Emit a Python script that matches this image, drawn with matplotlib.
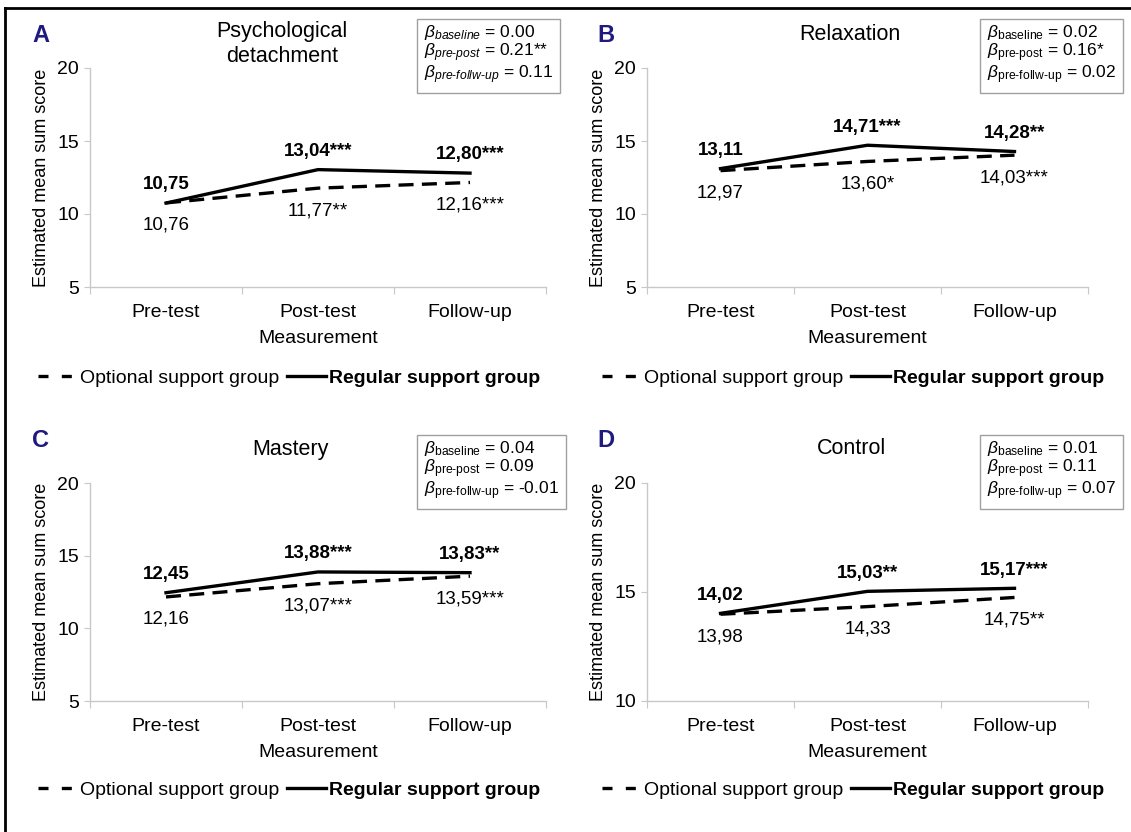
import matplotlib
matplotlib.use("Agg")
import matplotlib.pyplot as plt
from matplotlib.lines import Line2D

plt.rcParams['font.family'] = ['Liberation Sans', 'DejaVu Sans']
plt.rcParams['mathtext.fontset'] = 'custom'
plt.rcParams['mathtext.rm'] = 'Liberation Sans'
plt.rcParams['mathtext.it'] = 'Liberation Sans:italic'
plt.rcParams['mathtext.bf'] = 'Liberation Sans:bold'

categories = ["Pre-test", "Post-test", "Follow-up"]

titles = ["Psychological\ndetachment", "Relaxation", "Mastery", "Control"]
letters = ["A", "B", "C", "D"]

regular_A = [10.75, 13.04, 12.80]
optional_A = [10.76, 11.77, 12.16]
regular_B = [13.11, 14.71, 14.28]
optional_B = [12.97, 13.60, 14.03]
regular_C = [12.45, 13.88, 13.83]
optional_C = [12.16, 13.07, 13.59]
regular_D = [14.02, 15.03, 15.17]
optional_D = [13.98, 14.33, 14.75]

regular_stars_A = ["", "***", "***"]
optional_stars_A = ["", "**", "***"]
regular_stars_B = ["", "***", "**"]
optional_stars_B = ["", "*", "***"]
regular_stars_C = ["", "***", "**"]
optional_stars_C = ["", "***", "***"]
regular_stars_D = ["", "**", "***"]
optional_stars_D = ["", "", "**"]

beta_baseline = ["0.00", "0.02", "0.04", "0.01"]
beta_prepost = ["0.21**", "0.16*", "0.09", "0.11"]
beta_prefollow = ["0.11", "0.02", "-0.01", "0.07"]

ylims = [(5, 20), (5, 20), (5, 20), (10, 20)]
yticks = [[5, 10, 15, 20], [5, 10, 15, 20], [5, 10, 15, 20], [10, 15, 20]]

regulars = [regular_A, regular_B, regular_C, regular_D]
optionals = [optional_A, optional_B, optional_C, optional_D]
reg_stars = [regular_stars_A, regular_stars_B, regular_stars_C, regular_stars_D]
opt_stars = [optional_stars_A, optional_stars_B, optional_stars_C, optional_stars_D]

W, H = 1131, 832
fig = plt.figure(figsize=(W / 100, H / 100), dpi=100)

def fx(px):
    return px / W

def fy(py):
    return 1 - py / H

# axes boxes in pixels: left, right, top, bottom
boxes = [(90, 546, 68, 287), (647, 1088, 68, 287),
         (90, 546, 483, 701), (647, 1088, 483, 701)]

navy = "#1f1a80"
gray = "#c8c8c8"
FS = 14

for i in range(4):
    l, r, t, b = boxes[i]
    ax = fig.add_axes([fx(l), fy(b), fx(r) - fx(l), fy(t) - fy(b)])
    x = list(range(len(categories)))
    ax.plot(x, optionals[i], color="black", lw=2.4, linestyle=(0, (4.5, 2.5)), zorder=3)
    ax.plot(x, regulars[i], color="black", lw=2.4, zorder=4)
    ax.set_xlim(-0.5, 2.5)
    ax.set_ylim(*ylims[i])
    ax.set_yticks(yticks[i])
    ax.set_yticklabels([str(v) for v in yticks[i]], fontsize=FS)
    ax.set_xticks([-0.5, 0.5, 1.5, 2.5])
    ax.set_xticklabels([])
    ax.set_xticks(x, minor=True)
    ax.set_xticklabels(categories, minor=True, fontsize=FS)
    ax.tick_params(axis='x', which='minor', length=0, pad=12)
    ax.tick_params(axis='x', which='major', length=5, color=gray, direction='out')
    ax.tick_params(axis='y', length=4, color=gray, direction='out', pad=4)
    for s in ["top", "right"]:
        ax.spines[s].set_visible(False)
    ax.spines["left"].set_color(gray)
    ax.spines["bottom"].set_color(gray)
    ax.spines["left"].set_linewidth(1)
    ax.spines["bottom"].set_linewidth(1)
    ax.set_ylabel("Estimated mean sum score", fontsize=13, labelpad=5)
    ax.set_xlabel("Measurement", fontsize=FS, labelpad=7)

    # data labels
    for j in range(3):
        ax.annotate(f"{regulars[i][j]:.2f}".replace(".", ",") + reg_stars[i][j],
                    (x[j], regulars[i][j]), xytext=(0, 7), textcoords="offset points",
                    ha="center", va="bottom", fontsize=13.5, fontweight="bold", zorder=5)
        ax.annotate(f"{optionals[i][j]:.2f}".replace(".", ",") + opt_stars[i][j],
                    (x[j], optionals[i][j]), xytext=(0, -10), textcoords="offset points",
                    ha="center", va="top", fontsize=13.5, zorder=5)

    # title
    if i == 0:
        fig.text(fx(282), fy(44), titles[i], ha="center", va="center", fontsize=15.5,
                 linespacing=1.2)
    else:
        ty = 35 if i == 1 else 449
        tx = {1: 850, 2: 290, 3: 852}[i]
        fig.text(fx(tx), fy(ty), titles[i], ha="center", va="center", fontsize=15.5)
    # letter
    lx = 41 if i % 2 == 0 else 606
    ly = 36 if i < 2 else 441
    fig.text(fx(lx), fy(ly), letters[i], ha="center", va="center", fontsize=17,
             fontweight="bold", color=navy)

    # beta box
    if i == 0:
        s1 = r"$\beta_{\mathit{baseline}}$ = " + beta_baseline[i]
        s2 = r"$\beta_{\mathit{pre}\text{-}\mathit{post}}$ = " + beta_prepost[i]
        s3 = r"$\beta_{\mathit{pre}\text{-}\mathit{follw}\text{-}\mathit{up}}$ = " + beta_prefollow[i]
    else:
        s1 = r"$\beta_{\mathrm{baseline}}$ = " + beta_baseline[i]
        s2 = r"$\beta_{\text{pre-post}}$ = " + beta_prepost[i]
        s3 = r"$\beta_{\text{pre-follw-up}}$ = " + beta_prefollow[i]
    bx = 424 if i % 2 == 0 else 987
    by = 23 if i < 2 else 439
    fig.text(fx(bx), fy(by), s1 + "\n" + s2 + "\n" + s3, ha="left", va="top",
             fontsize=12.5, linespacing=0.95,
             bbox=dict(boxstyle="square,pad=0.4", fc="white", ec="#a0a0a0", lw=1))

    # legend
    handles = [Line2D([], [], color="black", lw=2.4, linestyle=(0, (3, 4))),
               Line2D([], [], color="black", lw=2.4)]
    legx = 289 if i % 2 == 0 else 853
    legy = 378 if i < 2 else 790
    leg = fig.legend(handles, ["Optional support group", "Regular support group"],
                     loc="center", bbox_to_anchor=(fx(legx), fy(legy)), ncol=2,
                     frameon=False, fontsize=14, handlelength=2.0, handletextpad=0.15,
                     columnspacing=0.4)
    leg.get_texts()[1].set_fontweight("bold")

# figure border (top and left)
fig.add_artist(Line2D([fx(5), fx(W)], [fy(8), fy(8)], color="black", lw=2))
fig.add_artist(Line2D([fx(5), fx(5)], [fy(8), fy(H)], color="black", lw=2))

fig.savefig("out.png", dpi=100)
